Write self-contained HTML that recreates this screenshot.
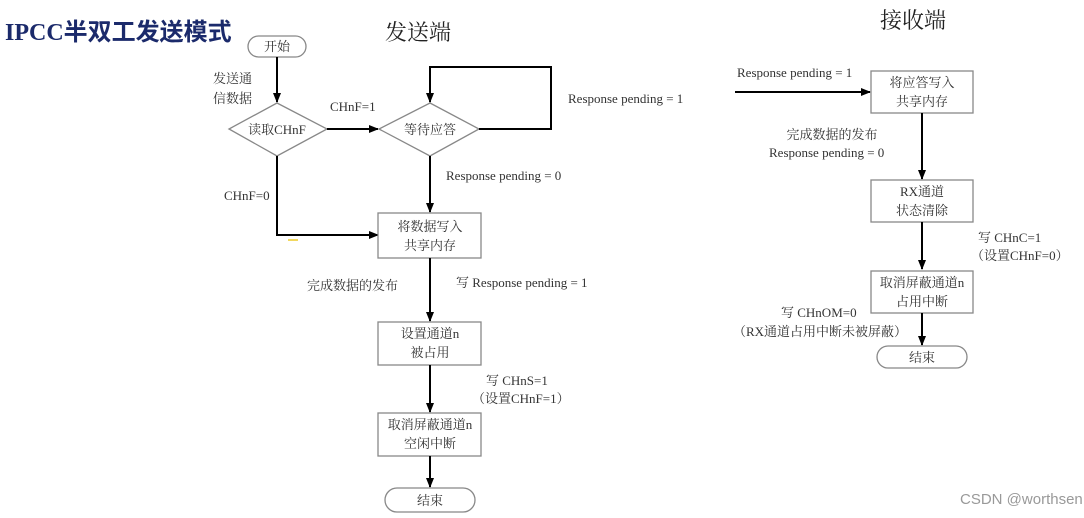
<!DOCTYPE html>
<html><head><meta charset="utf-8"><style>
html,body{margin:0;padding:0;background:#fff;}
svg{display:block;}
text{font-family:"Liberation Serif","Noto Serif CJK SC",serif;font-size:13px;fill:#333;}
.t{text-anchor:middle;}
.bx{fill:#fff;stroke:#888;stroke-width:1.3;}
.ln{stroke:#000;stroke-width:2;fill:none;}
</style></head><body>
<svg width="1084" height="518" viewBox="0 0 1084 518">
<defs><marker id="a" markerWidth="10" markerHeight="8" refX="9" refY="4" orient="auto" markerUnits="userSpaceOnUse"><path d="M0,0 L10,4 L0,8 z" fill="#000"/></marker></defs>
<text x="5" y="40" style="font-family:'Liberation Serif','Noto Sans CJK SC',sans-serif;font-size:24px;font-weight:bold;fill:#1b2a6b">IPCC半双工发送模式</text>
<text x="418" y="40" class="t" style="font-size:22px;fill:#222">发送端</text>
<text x="913" y="28" class="t" style="font-size:22px;fill:#222">接收端</text>

<!-- left flow -->
<rect x="248" y="36" width="58" height="21" rx="10.5" class="bx"/>
<text x="277" y="51" class="t">开始</text>
<line x1="277" y1="57" x2="277" y2="102" class="ln" marker-end="url(#a)"/>
<text x="252" y="83" text-anchor="end">发送通</text>
<text x="252" y="103" text-anchor="end">信数据</text>
<polygon points="277,103 327,129 277,156 229,129" class="bx"/>
<text x="277" y="134" class="t">读取CHnF</text>
<line x1="327" y1="129" x2="378" y2="129" class="ln" marker-end="url(#a)"/>
<text x="330" y="111">CHnF=1</text>
<polygon points="430,103 479,129 430,156 379,129" class="bx"/>
<text x="430" y="134" class="t">等待应答</text>
<polyline points="479,129 551,129 551,67 430,67 430,102" class="ln" marker-end="url(#a)"/>
<text x="568" y="103">Response pending = 1</text>
<line x1="430" y1="156" x2="430" y2="212" class="ln" marker-end="url(#a)"/>
<text x="446" y="180">Response pending = 0</text>
<polyline points="277,156 277,235 378,235" class="ln" marker-end="url(#a)"/>
<text x="224" y="200">CHnF=0</text>
<line x1="288" y1="240" x2="298" y2="240" stroke="#f2d860" stroke-width="2"/>
<rect x="378" y="213" width="103" height="45" class="bx"/>
<text x="430" y="231" class="t">将数据写入</text>
<text x="430" y="250" class="t">共享内存</text>
<line x1="430" y1="258" x2="430" y2="321" class="ln" marker-end="url(#a)"/>
<text x="307" y="290">完成数据的发布</text>
<text x="456" y="287">写 Response pending = 1</text>
<rect x="378" y="322" width="103" height="43" class="bx"/>
<text x="430" y="338" class="t">设置通道n</text>
<text x="430" y="357" class="t">被占用</text>
<line x1="430" y1="365" x2="430" y2="412" class="ln" marker-end="url(#a)"/>
<text x="486" y="385">写 CHnS=1</text>
<text x="472" y="403">（设置CHnF=1）</text>
<rect x="378" y="413" width="103" height="43" class="bx"/>
<text x="430" y="429" class="t">取消屏蔽通道n</text>
<text x="430" y="448" class="t">空闲中断</text>
<line x1="430" y1="456" x2="430" y2="487" class="ln" marker-end="url(#a)"/>
<rect x="385" y="488" width="90" height="24" rx="12" class="bx"/>
<text x="430" y="505" class="t">结束</text>

<!-- right flow -->
<text x="737" y="77">Response pending = 1</text>
<line x1="735" y1="92" x2="870" y2="92" class="ln" marker-end="url(#a)"/>
<rect x="871" y="71" width="102" height="42" class="bx"/>
<text x="922" y="87" class="t">将应答写入</text>
<text x="922" y="106" class="t">共享内存</text>
<line x1="922" y1="113" x2="922" y2="179" class="ln" marker-end="url(#a)"/>
<text x="832" y="139" class="t">完成数据的发布</text>
<text x="769" y="157">Response pending = 0</text>
<rect x="871" y="180" width="102" height="42" class="bx"/>
<text x="922" y="196" class="t">RX通道</text>
<text x="922" y="215" class="t">状态清除</text>
<line x1="922" y1="222" x2="922" y2="269" class="ln" marker-end="url(#a)"/>
<text x="978" y="242">写 CHnC=1</text>
<text x="971" y="260">（设置CHnF=0）</text>
<rect x="871" y="271" width="102" height="42" class="bx"/>
<text x="922" y="287" class="t">取消屏蔽通道n</text>
<text x="922" y="306" class="t">占用中断</text>
<line x1="922" y1="313" x2="922" y2="345" class="ln" marker-end="url(#a)"/>
<text x="781" y="317">写 CHnOM=0</text>
<text x="733" y="336">（RX通道占用中断未被屏蔽）</text>
<rect x="877" y="346" width="90" height="22" rx="11" class="bx"/>
<text x="922" y="362" class="t">结束</text>

<text x="960" y="504" style="font-family:'Liberation Sans','Noto Sans CJK SC',sans-serif;font-size:15px;fill:#999">CSDN @worthsen</text>
</svg>
</body></html>
